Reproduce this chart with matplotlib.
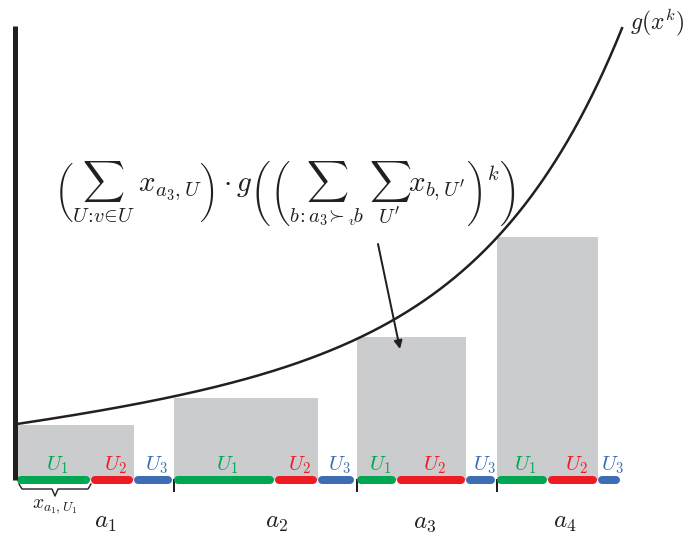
import numpy as np
import matplotlib.pyplot as plt

plt.rcParams['mathtext.fontset'] = 'cm'

# ============================================================
# DATA
# ============================================================
groups = ['a_1', 'a_2', 'a_3', 'a_4']
group_start = [17, 174, 357, 497]          # left edge of each group on the axis
bar_heights = [55, 82, 143, 243]           # gray bars
u1_width = [74, 101, 40, 51]
u2_width = [43, 43, 69, 50]
u3_width = [39, 37, 30, 23]
seg_labels = ['U_1', 'U_2', 'U_3']
seg_colors = ['#00a651', '#ed1c24', '#3e6db5']

# curve g(x^k): h(t) = c0 + c1*t + c2*(exp(r*t) - 1), t measured from the axis origin
curve_c0, curve_c1, curve_c2, curve_r = 56, 0.12, 4.2, 0.0072
curve_x_end = 622

INK = '#231f20'
GRAY = '#cbcccd'

# ============================================================
# FIGURE (pixel-like coordinates, y = height above the baseline)
# ============================================================
fig = plt.figure(figsize=(6.91, 5.36), dpi=100)
ax = fig.add_axes([0, 0, 1, 1])
ax.set_xlim(0, 691)
ax.set_ylim(-56, 480)
ax.axis('off')

x0 = group_start[0]
px = 72 / 100  # points per pixel

# gray bars over U1+U2
for gs, h, w1, w2 in zip(group_start, bar_heights, u1_width, u2_width):
    ax.bar(gs, h, width=w1 + w2, align='edge', color=GRAY, zorder=1)

# coloured segments on the baseline + labels
for gs, w1, w2, w3 in zip(group_start, u1_width, u2_width, u3_width):
    left = gs
    for w, lab, col in zip([w1, w2, w3], seg_labels, seg_colors):
        ax.plot([left + 4.5, left + w - 4.5], [0, 0], color=col, lw=8 * px,
                solid_capstyle='round', zorder=3)
        ax.text(left + w / 2 + 3, 4, f'${lab}$', color=col, fontsize=15,
                ha='center', va='bottom', zorder=4)
        left += w

# tick marks at group boundaries
for gs in group_start[1:]:
    ax.plot([gs, gs], [0, -11], color=INK, lw=2 * px, zorder=2)

# group labels
label_nudge = [10, 12, -2, 6]
for gs, w1, w2, w3, name, dx in zip(group_start, u1_width, u2_width, u3_width, groups, label_nudge):
    ax.text(gs + (w1 + w2 + w3) / 2 + dx, -42, f'${name}$', fontsize=18,
            ha='center', va='center', color=INK)

# vertical axis
ax.plot([15.5, 15.5], [0, 454], color=INK, lw=5 * px, solid_capstyle='butt', zorder=5)

# curve g(x^k)
xs = np.linspace(x0, curve_x_end, 400)
t = xs - x0
hs = curve_c0 + curve_c1 * t + curve_c2 * (np.exp(curve_r * t) - 1)
ax.plot(xs, hs, color=INK, lw=2.5 * px, zorder=6)
ax.text(630, 458, r'$g(x^k)$', fontsize=17, ha='left', va='center', color=INK)

# brace under first U1 segment
bx0, bx1 = x0 + 2, x0 + u1_width[0]
bm = (bx0 + bx1) / 2
ax.plot([bx0, bx0 + 3, bm - 3, bm, bm + 3, bx1 - 3, bx1],
        [-4, -9, -9, -16, -9, -9, -4], color=INK, lw=1.4 * px, zorder=6)
ax.text(bm, -26, r'$x_{a_1,U_1}$', fontsize=14, ha='center', va='center', color=INK)

# formula
formula = (r'$\left(\sum_{U\!:\!v\!\in\!U}\; x_{a_3,U}\right)\cdot g\left(\left('
           r'\sum_{b\!:a_3\!\succ_v\! b}\;\sum_{U^\prime} x_{b,U^\prime}\right)^k\right)$')
ax.text(285, 286, formula, fontsize=21, ha='center', va='center', color=INK, zorder=7)

# arrow
ax.annotate('', xy=(400, 131), xytext=(378, 236),
            arrowprops=dict(arrowstyle='-|>', color=INK, lw=2 * px,
                            mutation_scale=12, shrinkA=0, shrinkB=0), zorder=7)

fig.savefig('out.png', dpi=100)
